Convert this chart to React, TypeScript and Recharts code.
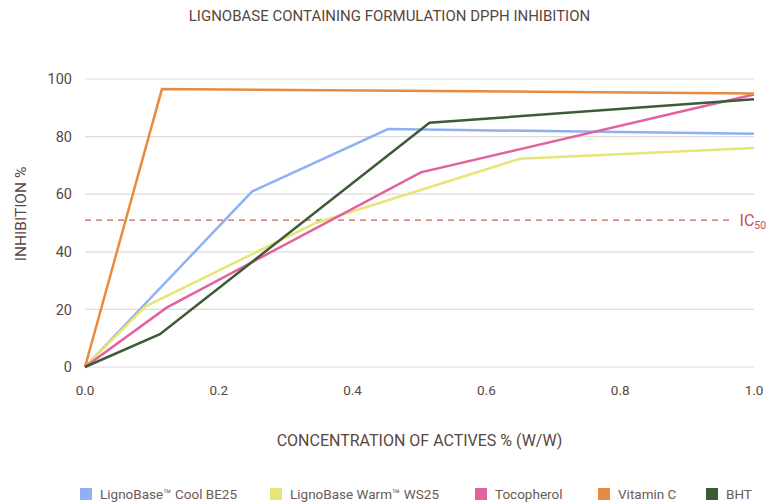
import { CartesianGrid, Label, Line, LineChart, ReferenceLine, XAxis, YAxis } from "recharts"

const xTicks = [0, 0.2, 0.4, 0.6, 0.8, 1.0]
const yTicks = [0, 20, 40, 60, 80, 100]

const coolX = [0, 0.25, 0.453, 1.0]
const coolY = [0, 61, 82.6, 81]
const warmX = [0, 0.09, 0.345, 0.65, 1.0]
const warmY = [0, 21, 50, 72.3, 76]
const tocoX = [0, 0.122, 0.502, 1.0]
const tocoY = [0, 20.6, 67.6, 94.6]
const vitcX = [0, 0.115, 1.0]
const vitcY = [0, 96.5, 95]
const bhtX = [0, 0.112, 0.515, 1.0]
const bhtY = [0, 11.4, 84.8, 93]

const ic50 = 51

const series = [
  { name: "LignoBase\u2122 Cool BE25", color: "#8fb1f4", xs: coolX, ys: coolY },
  { name: "LignoBase Warm\u2122 WS25", color: "#e6e677", xs: warmX, ys: warmY },
  { name: "Tocopherol", color: "#e2619f", xs: tocoX, ys: tocoY },
  { name: "Vitamin C", color: "#e88a3f", xs: vitcX, ys: vitcY },
  { name: "BHT", color: "#3d5b36", xs: bhtX, ys: bhtY },
]

// width each legend entry takes up, square to next square
const legendWidths = [190, 205, 123, 108, 50]

const toPoints = (xs: number[], ys: number[]) => xs.map((x, i) => ({ x, y: ys[i] }))

const font = "Roboto, 'Liberation Sans', Arial, sans-serif"
const textColor = "#5a4640"

export default function App() {
  return (
    <div style={{ position: "absolute", left: 0, top: 0, width: 779, height: 504, background: "#fff", fontFamily: font }}>
      <div
        style={{
          position: "absolute",
          top: 7,
          left: 0,
          width: 779,
          textAlign: "center",
          fontSize: 15,
          color: textColor,
        }}
      >
        LIGNOBASE CONTAINING FORMULATION DPPH INHIBITION
      </div>
      <LineChart
        width={779}
        height={504}
        margin={{ top: 79, right: 25, bottom: 57, left: 0 }}
        style={{ fontFamily: font }}
      >
        <CartesianGrid vertical={false} stroke="#dcdcdc" strokeWidth={1.2} />
        <XAxis
          type="number"
          dataKey="x"
          domain={[0, 1]}
          ticks={xTicks}
          tickFormatter={(v: number) => v.toFixed(1)}
          axisLine={false}
          tickLine={false}
          tickMargin={12}
          height={80}
          tick={{ fill: textColor, fontSize: 13.5 }}
        >
          <Label
            content={({ viewBox }: any) => (
              <text
                x={viewBox.x + viewBox.width / 2}
                y={viewBox.y + 79}
                textAnchor="middle"
                fill={textColor}
                fontSize={16}
                fontFamily={font}
              >
                CONCENTRATION OF ACTIVES % (W/W)
              </text>
            )}
          />
        </XAxis>
        <YAxis
          type="number"
          domain={[0, 100]}
          ticks={yTicks}
          axisLine={false}
          tickLine={false}
          tickMargin={7}
          width={85}
          tick={{ fill: textColor, fontSize: 14.5 }}
        >
          <Label
            content={({ viewBox }: any) => {
              const cx = 26
              const cy = viewBox.y + viewBox.height / 2 - 9
              return (
                <text
                  x={cx}
                  y={cy}
                  transform={`rotate(-90, ${cx}, ${cy})`}
                  textAnchor="middle"
                  fill={textColor}
                  fontSize={15.5}
                  fontFamily={font}
                >
                  INHIBITION %
                </text>
              )
            }}
          />
        </YAxis>
        <ReferenceLine
          segment={[
            { x: 0, y: ic50 },
            { x: 0.965, y: ic50 },
          ]}
          stroke="#c0675d"
          strokeWidth={1.2}
          strokeDasharray="6 5"
          label={({ viewBox }: any) => (
            <text
              x={viewBox.x + viewBox.width + 9}
              y={viewBox.y + 6}
              fill="#c0504d"
              fontSize={16}
              fontFamily={font}
            >
              IC
              <tspan fontSize={10.5} dy={3}>
                50
              </tspan>
            </text>
          )}
        />
        {series.map((s) => (
          <Line
            key={s.name}
            data={toPoints(s.xs, s.ys)}
            dataKey="y"
            name={s.name}
            type="linear"
            stroke={s.color}
            strokeWidth={2.5}
            dot={false}
            activeDot={false}
            isAnimationActive={false}
          />
        ))}
      </LineChart>
      <div
        style={{
          position: "absolute",
          top: 486,
          left: 80,
          display: "flex",
          alignItems: "center",
          fontSize: 13.5,
          color: "#6b5a55",
          whiteSpace: "nowrap",
        }}
      >
        {series.map((s, i) => (
          <div key={s.name} style={{ display: "flex", alignItems: "center", gap: 8, width: legendWidths[i] }}>
            <span style={{ width: 12, height: 12, background: s.color, display: "inline-block", flexShrink: 0 }} />
            <span>{s.name}</span>
          </div>
        ))}
      </div>
    </div>
  )
}
